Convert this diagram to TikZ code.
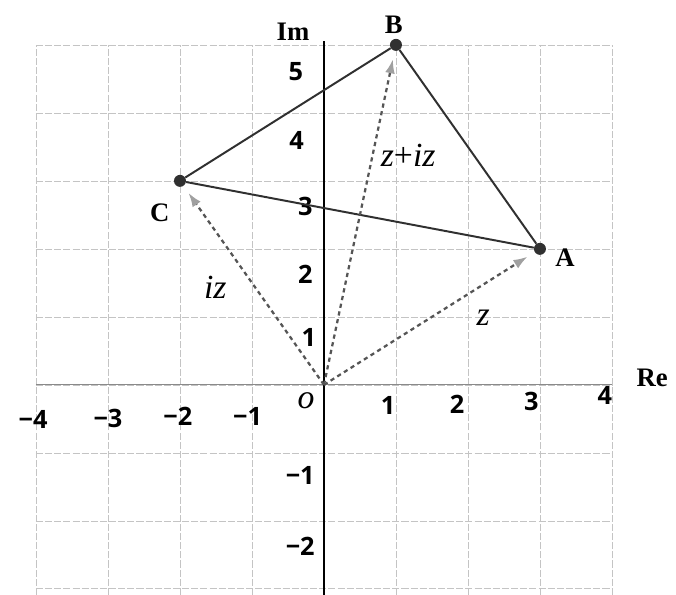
\documentclass[tikz,border=0pt]{standalone}
\usepackage{fontspec}
\setmainfont{Liberation Serif}
\newfontfamily\numfont{Open Sans}
\usetikzlibrary{arrows.meta}
\definecolor{ink}{HTML}{303030}
\definecolor{gridgray}{HTML}{C4C4C4}
\definecolor{axisgray}{HTML}{8A8A8A}
\definecolor{vecgray}{HTML}{555555}
\definecolor{tipgray}{HTML}{A0A0A0}
\begin{document}
\begin{tikzpicture}[x=1.8cm,y=1.7cm,
 dot/.style={circle,fill=ink,inner sep=0pt,minimum size=.3cm},
 grd/.style={gridgray,line width=.45pt,dash pattern=on 5pt off 1.5pt},
 vec/.style={vecgray,line width=1.6pt,dash pattern=on 3pt off 2.6pt,shorten >=6pt,
  -{Latex[length=10pt,width=7pt,color=tipgray]}},
 side/.style={ink,line width=1.4pt},
 num/.style={font=\numfont\bfseries\fontsize{18}{20}\selectfont,inner sep=0pt},
 pt/.style={font=\fontsize{19}{21}\selectfont\bfseries,inner sep=0pt},
 var/.style={font=\fontsize{24}{26}\selectfont\itshape,inner sep=0pt}]
\useasboundingbox (-4.5,-3.09) rectangle (4.89,5.66);
% grid
\foreach \x in {-4,...,4} \draw[grd] (\x,-3.09)--(\x,5);
\foreach \y in {-3,...,5} \draw[grd] (-4,\y)--(4,\y);
% axes
\draw[axisgray,line width=.6pt] (-4,0)--(4,0);
\draw[black,line width=1.4pt] (0,-3.09)--(0,5.05);
\node[pt] (im) at (-0.43,5.2) {Im};
\node[pt] (re) at (4.56,0.1) {Re};
\node[var] (o) at (-0.25,-0.24) {o};
% scale numbers
\foreach \v/\px/\py in {1/0.89/-0.31,2/1.85/-0.29,3/2.88/-0.24,4/3.9/-0.15,
 −1/-1.06/-0.46,−2/-2.03/-0.47,−3/-3.0/-0.49,−4/-4.04/-0.51}
 \node[num] at (\px,\py) {\v};
\foreach \v/\px/\py in {5/-0.39/4.6,4/-0.38/3.59,3/-0.26/2.62,2/-0.26/1.63,
 1/-0.21/0.69,−1/-0.33/-1.34,−2/-0.33/-2.38}
 \node[num] at (\px,\py) {\v};
% points
\coordinate (O) at (0,0);
\node[dot] (A) at (3,2) {};
\node[dot] (B) at (1,5) {};
\node[dot] (C) at (-2,3) {};
\node[pt] (a) at (3.35,1.87) {A};
\node[pt] (b) at (0.97,5.29) {B};
\node[pt] (c) at (-2.28,2.53) {C};
% triangle
\draw[side] (A)--(B)--(C)--(A);
% vectors
\foreach \p in {A,B,C} \draw[vec] (O)--(\p);
\node[var] (z) at (2.21,0.99) {z};
\node[var] (iz) at (-1.51,1.44) {iz};
\node[var] (ziz) at (1.17,3.38) {z\upshape+\itshape iz};
\end{tikzpicture}
\end{document}
